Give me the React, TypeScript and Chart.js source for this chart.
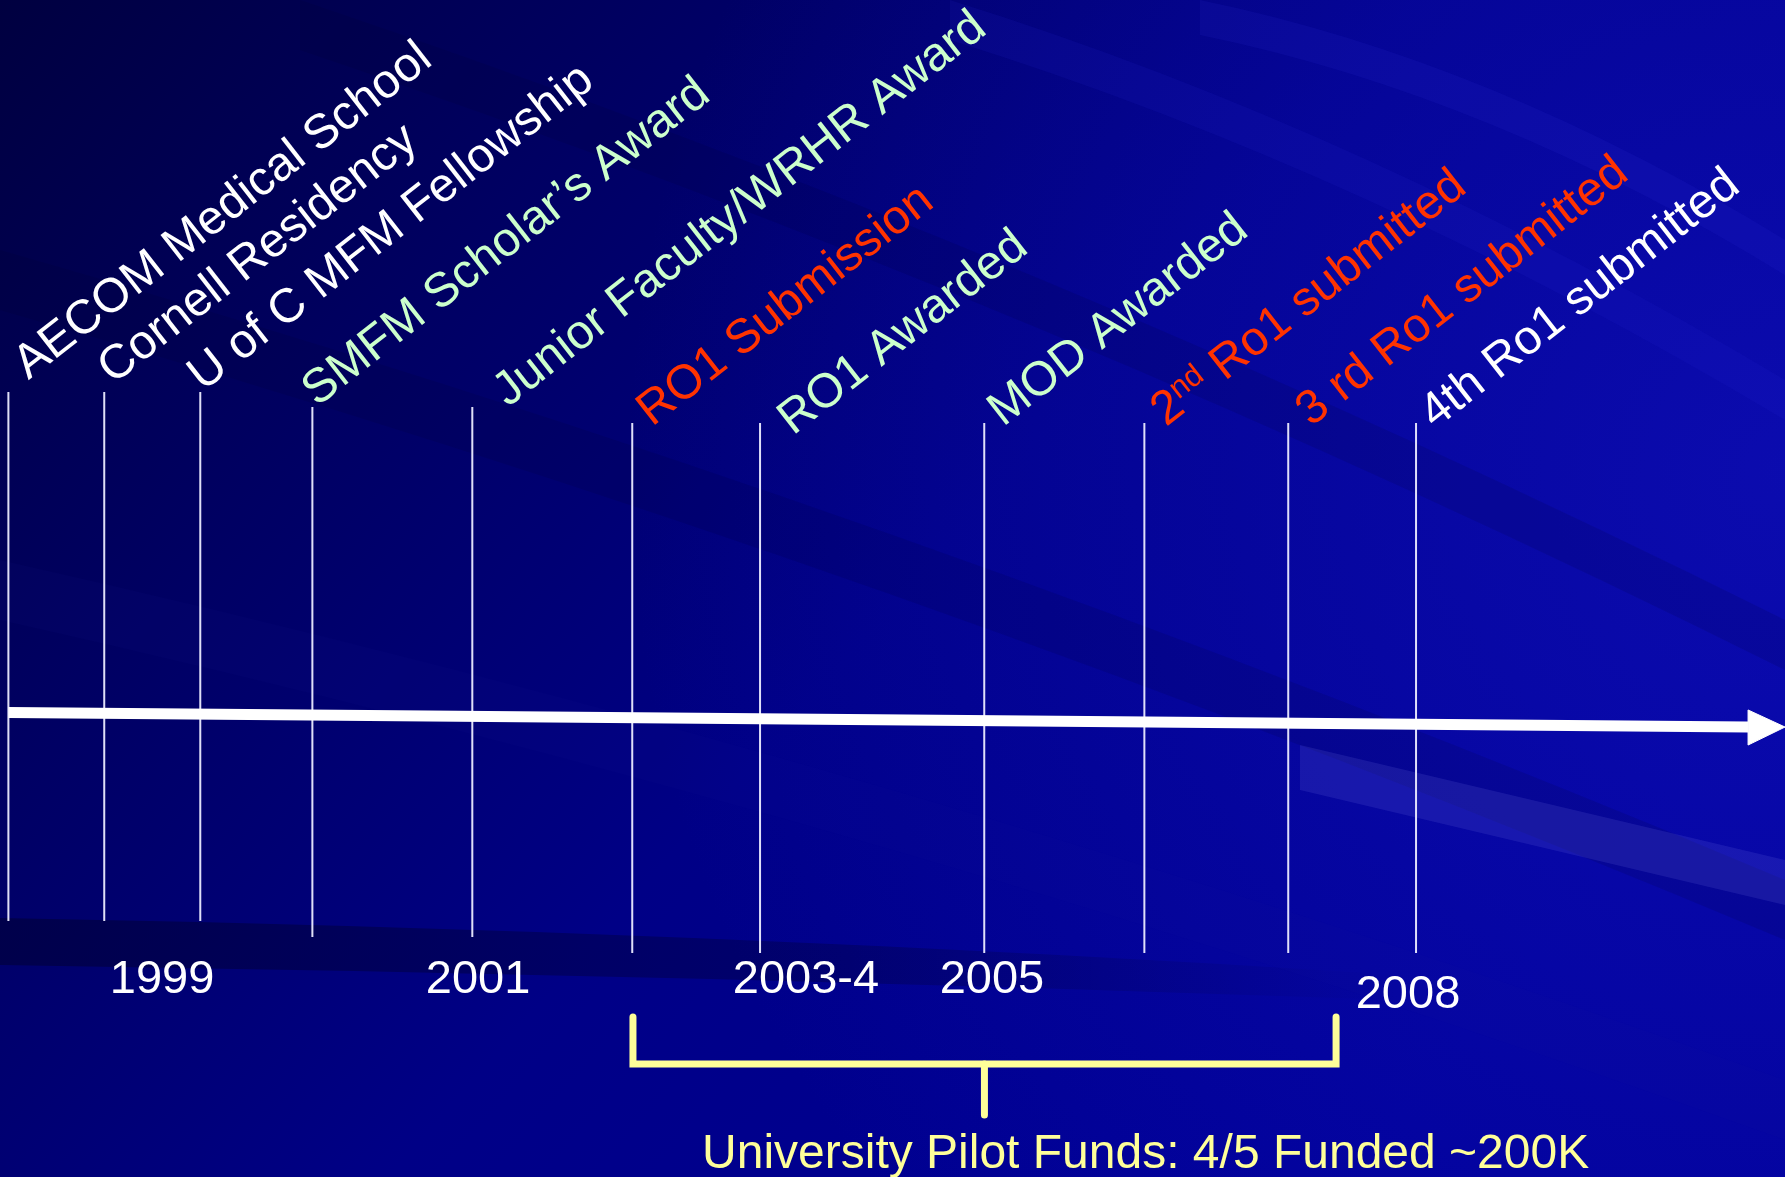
import React, { useEffect, useRef } from "react";
import { Chart, registerables } from "chart.js";

Chart.register(...registerables);

// ---- Data (timeline units: x 0..100 across, y 0..100 bottom->top) ----
const EVENT_X = [0.47, 5.84, 11.22, 17.5, 26.46, 35.42, 42.58, 55.14, 64.11, 72.17, 79.33];
const EVENT_TOP = [66.7, 66.7, 66.7, 65.42, 65.42, 64.06, 64.06, 64.06, 64.06, 64.06, 64.06];
const EVENT_BOTTOM = [21.75, 21.75, 21.75, 20.39, 20.39, 19.03, 19.03, 19.03, 19.03, 19.03, 19.03];

const EVENT_LABELS = [
  "AECOM Medical School",
  "Cornell Residency",
  "U of C MFM Fellowship",
  "SMFM Scholar\u2019s Award",
  "Junior Faculty/WRHR Award",
  "RO1 Submission",
  "RO1 Awarded",
  "MOD Awarded",
  "2{nd} Ro1 submitted",
  "3 rd Ro1 submitted",
  "4th Ro1 submitted",
];
const LABEL_X = [1.6, 6.33, 11.37, 17.76, 28.46, 36.53, 44.43, 56.19, 65.32, 73.45, 80.39];
const LABEL_Y = [67.7, 67.3, 66.7, 65.4, 65.35, 63.7, 62.95, 63.7, 63.7, 63.7, 63.5];
const LABEL_KIND = ["past", "past", "past", "award", "award", "submit", "award", "award", "submit", "submit", "past"];

const YEAR_LABELS = ["1999", "2001", "2003-4", "2005", "2008"];
const YEAR_X = [9.08, 26.78, 45.15, 55.57, 78.88];
const YEAR_Y = [15.63, 15.63, 15.63, 15.63, 14.36];

const ARROW_X = [0.47, 97.93];
const ARROW_Y = [39.46, 38.23];
const ARROW_HEAD_X = [97.93, 100, 97.93, 97.93];
const ARROW_HEAD_Y = [39.68, 38.23, 36.7, 39.68];

const BRACKET_X = [35.46, 35.46, 74.85, 74.85];
const BRACKET_Y = [13.59, 9.6, 9.6, 13.59];
const STEM_X = [55.15, 55.15];
const STEM_Y = [9.6, 5.27];

const CAPTION = "University Pilot Funds: 4/5 Funded ~200K";
const CAPTION_X = 39.33;
const CAPTION_Y = 0.76;

// ---- Styles ----
const COLORS: Record<string, string> = {
  past: "#FFFFFF",
  award: "#CCFFCC",
  submit: "#FF3300",
};
const YELLOW = "#FFFF99";
const FONT = "'Liberation Sans', Arial, Helvetica, sans-serif";
const LABEL_SIZE = 48;
const TEXT_SIZE = 47;
const CAPTION_SIZE = 48;
const ANGLE = -38;

const W = 1785;
const H = 1177;

const backgroundPlugin = {
  id: "slideBackground",
  beforeDraw(chart: any) {
    const { ctx, width, height } = chart;
    ctx.save();
    const g = ctx.createLinearGradient(0, 0, width * 0.75, height);
    g.addColorStop(0, "#000040");
    g.addColorStop(0.3, "#000064");
    g.addColorStop(0.6, "#000086");
    g.addColorStop(1, "#000098");
    ctx.fillStyle = g;
    ctx.fillRect(0, 0, width, height);

    // brighter right side
    const r = ctx.createRadialGradient(width, height * 0.4, 10, width, height * 0.4, width * 0.65);
    r.addColorStop(0, "rgba(16,16,185,0.7)");
    r.addColorStop(1, "rgba(16,16,185,0)");
    ctx.fillStyle = r;
    ctx.fillRect(0, 0, width, height);

    // dark band under the timeline, fading to the right
    const band = ctx.createLinearGradient(0, 0, 1400, 0);
    band.addColorStop(0, "rgba(0,0,45,0.5)");
    band.addColorStop(0.6, "rgba(0,0,45,0.3)");
    band.addColorStop(1, "rgba(0,0,45,0)");
    ctx.fillStyle = band;
    ctx.beginPath();
    ctx.moveTo(0, 918);
    ctx.quadraticCurveTo(700, 930, 1400, 975);
    ctx.lineTo(1400, 1000);
    ctx.quadraticCurveTo(700, 975, 0, 965);
    ctx.closePath();
    ctx.fill();

    // subtle sweeping rays
    const rays: [number, number, number, number, number, string][] = [
      [0, 250, 1785, 880, 60, "rgba(0,0,40,0.12)"],
      [0, 560, 1785, 1080, 60, "rgba(30,30,160,0.07)"],
      [300, 0, 1785, 620, 50, "rgba(0,0,40,0.12)"],
      [950, 0, 1785, 380, 40, "rgba(40,40,210,0.12)"],
      [1200, 0, 1785, 240, 35, "rgba(50,50,220,0.12)"],
    ];
    rays.forEach(([x1, y1, x2, y2, wdt, c]) => {
      ctx.fillStyle = c;
      ctx.beginPath();
      ctx.moveTo(x1, y1);
      ctx.quadraticCurveTo((x1 + x2) / 2, (y1 + y2) / 2 - 60, x2, y2);
      ctx.lineTo(x2, y2 + wdt);
      ctx.quadraticCurveTo((x1 + x2) / 2, (y1 + y2) / 2 - 60 + wdt, x1, y1 + wdt);
      ctx.closePath();
      ctx.fill();
    });

    // light streak at bottom right
    ctx.fillStyle = "rgba(120,120,230,0.16)";
    ctx.beginPath();
    ctx.moveTo(1300, 745);
    ctx.lineTo(1785, 860);
    ctx.lineTo(1785, 905);
    ctx.lineTo(1300, 790);
    ctx.closePath();
    ctx.fill();
    ctx.restore();
  },
};

function drawSegments(ctx: CanvasRenderingContext2D, text: string) {
  // text with {..} marking superscript
  const parts: { t: string; sup: boolean }[] = [];
  const re = /\{([^}]*)\}/g;
  let last = 0;
  let m: RegExpExecArray | null;
  while ((m = re.exec(text))) {
    if (m.index > last) parts.push({ t: text.slice(last, m.index), sup: false });
    parts.push({ t: m[1], sup: true });
    last = m.index + m[0].length;
  }
  if (last < text.length) parts.push({ t: text.slice(last), sup: false });
  let x = 0;
  parts.forEach((p) => {
    const size = p.sup ? Math.round(LABEL_SIZE * 0.65) : LABEL_SIZE;
    ctx.font = `${size}px ${FONT}`;
    ctx.fillText(p.t, x, p.sup ? -Math.round(LABEL_SIZE * 0.3) : 0);
    x += ctx.measureText(p.t).width;
  });
}

const textPlugin = {
  id: "timelineText",
  afterDatasetsDraw(chart: any) {
    const { ctx } = chart;
    const xs = chart.scales.x;
    const ys = chart.scales.y;
    ctx.save();
    ctx.textBaseline = "alphabetic";
    EVENT_LABELS.forEach((label, i) => {
      const px = xs.getPixelForValue(LABEL_X[i]);
      const py = ys.getPixelForValue(LABEL_Y[i]);
      ctx.save();
      ctx.translate(px, py);
      ctx.rotate((ANGLE * Math.PI) / 180);
      ctx.fillStyle = COLORS[LABEL_KIND[i]];
      ctx.textAlign = "left";
      drawSegments(ctx, label);
      ctx.restore();
    });
    ctx.font = `${TEXT_SIZE}px ${FONT}`;
    ctx.fillStyle = "#FFFFFF";
    ctx.textAlign = "center";
    YEAR_LABELS.forEach((y, i) => {
      ctx.fillText(y, xs.getPixelForValue(YEAR_X[i]), ys.getPixelForValue(YEAR_Y[i]));
    });
    ctx.font = `${CAPTION_SIZE}px ${FONT}`;
    ctx.fillStyle = YELLOW;
    ctx.textAlign = "left";
    ctx.fillText(CAPTION, xs.getPixelForValue(CAPTION_X), ys.getPixelForValue(CAPTION_Y));
    ctx.restore();
  },
};

export default function App() {
  const ref = useRef<HTMLCanvasElement | null>(null);
  useEffect(() => {
    document.body.style.margin = "0";
    document.body.style.overflow = "hidden";
    if (!ref.current) return;

    const eventLines = EVENT_X.map((x, i) => ({
      data: [
        { x, y: EVENT_TOP[i] },
        { x, y: EVENT_BOTTOM[i] },
      ],
      borderColor: "rgba(235,235,255,0.95)",
      borderWidth: 2,
      pointRadius: 0,
      fill: false,
      order: 3,
    }));

    const chart = new Chart(ref.current, {
      type: "line",
      data: {
        datasets: [
          ...eventLines,
          {
            data: ARROW_X.map((x, i) => ({ x, y: ARROW_Y[i] })),
            borderColor: "#FFFFFF",
            borderWidth: 11,
            pointRadius: 0,
            fill: false,
            order: 2,
          },
          {
            data: ARROW_HEAD_X.map((x, i) => ({ x, y: ARROW_HEAD_Y[i] })),
            borderColor: "#FFFFFF",
            backgroundColor: "#FFFFFF",
            borderWidth: 1,
            pointRadius: 0,
            fill: "shape",
            order: 1,
          },
          {
            data: BRACKET_X.map((x, i) => ({ x, y: BRACKET_Y[i] })),
            borderColor: YELLOW,
            borderWidth: 7,
            borderJoinStyle: "miter",
            borderCapStyle: "round",
            pointRadius: 0,
            fill: false,
            order: 1,
          },
          {
            data: STEM_X.map((x, i) => ({ x, y: STEM_Y[i] })),
            borderColor: YELLOW,
            borderWidth: 7,
            borderCapStyle: "round",
            pointRadius: 0,
            fill: false,
            order: 1,
          },
        ] as any,
      },
      options: {
        animation: false,
        responsive: false,
        devicePixelRatio: 1,
        layout: { padding: 0 },
        events: [],
        scales: {
          x: { type: "linear", min: 0, max: 100, display: false },
          y: { type: "linear", min: 0, max: 100, display: false },
        },
        plugins: {
          legend: { display: false },
          tooltip: { enabled: false },
          title: { display: false },
        },
        elements: { line: { tension: 0 } },
      },
      plugins: [backgroundPlugin, textPlugin],
    });
    return () => chart.destroy();
  }, []);

  return (
    <div style={{ position: "fixed", left: 0, top: 0, width: W, height: H }}>
      <canvas ref={ref} width={W} height={H} style={{ display: "block", width: W, height: H }} />
    </div>
  );
}
